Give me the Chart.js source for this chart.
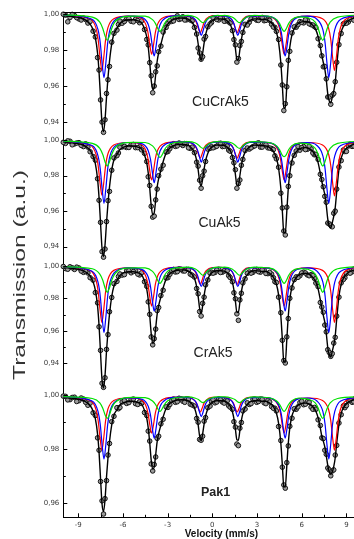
<!DOCTYPE html>
<html><head><meta charset="utf-8">
<script src="https://cdn.jsdelivr.net/npm/chart.js@4.4.1/dist/chart.umd.min.js"></script>
<style>
html,body{margin:0;padding:0;background:#fff;width:354px;height:539px;overflow:hidden;}
#wrap{position:relative;width:354px;height:539px;overflow:hidden;background:#fff;}
canvas{position:absolute;left:0;top:0;width:372px;height:539px;}
</style></head><body><div id="wrap">
<canvas id="c1" width="372" height="539"></canvas>
<canvas id="c2" width="372" height="539"></canvas>
<canvas id="c3" width="372" height="539"></canvas>
<canvas id="c4" width="372" height="539"></canvas>
</div>
<script>
// ---------- DATA ----------
const samples = ['CuCrAk5', 'CuAk5', 'CrAk5', 'Pak1'];
const yTitle = 'Transmission (a.u.)';
const xTitle = 'Velocity (mm/s)';
const xTickValues = [-9, -7.5, -6, -4.5, -3, -1.5, 0, 1.5, 3, 4.5, 6, 7.5, 9];
const yTickValuesWide = [0.94, 0.95, 0.96, 0.97, 0.98, 0.99, 1.00];
const yTickValuesPak1 = [0.96, 0.97, 0.98, 0.99, 1.00];

const velocity = [-10.0, -9.7, -9.4, -9.1, -8.8, -8.5, -8.2, -8.0, -7.85, -7.7,
 -7.6, -7.5, -7.4, -7.3, -7.2, -7.1, -7.0, -6.9, -6.75, -6.6,
 -6.4, -6.2, -5.9, -5.6, -5.3, -5.0, -4.75, -4.55, -4.4, -4.3,
 -4.2, -4.1, -4.0, -3.9, -3.8, -3.7, -3.6, -3.45, -3.3, -3.1,
 -2.85, -2.6, -2.35, -2.1, -1.85, -1.6, -1.35, -1.2, -1.05, -0.95,
 -0.85, -0.75, -0.65, -0.55, -0.45, -0.3, -0.15, 0.05, 0.3, 0.55,
 0.8, 1.0, 1.2, 1.35, 1.45, 1.55, 1.65, 1.75, 1.85, 1.95,
 2.05, 2.2, 2.35, 2.6, 2.85, 3.1, 3.35, 3.6, 3.85, 4.1,
 4.3, 4.45, 4.6, 4.7, 4.8, 4.9, 5.0, 5.1, 5.2, 5.35,
 5.5, 5.75, 6.0, 6.25, 6.5, 6.75, 6.95, 7.1, 7.25, 7.35,
 7.45, 7.55, 7.65, 7.75, 7.85, 7.95, 8.05, 8.15, 8.25, 8.35,
 8.5, 8.65, 8.8, 9.0, 9.25, 9.5, 9.75, 10.0];
// extra measured channels in the flat (off-resonance) regions
const velocityOff = [-9.85, -9.55, -9.25, -8.95, -8.65, -8.35,
 -6.3, -6.05, -5.75, -5.45, -5.15, -4.88,
 -2.98, -2.73, -2.48, -2.23, -1.98, -1.73, -1.48,
 -0.05, 0.18, 0.43, 0.68, 0.9, 1.1,
 2.48, 2.73, 2.98, 3.23, 3.48, 3.73, 3.98, 4.2,
 5.63, 5.88, 6.13, 6.38, 6.63, 6.85,
 8.9, 9.13, 9.38, 9.63, 9.88];

const dataCuCrAk5 = [.9997, .9955, .9996, .9978, .9965, .9968, .9957, .9903, .9871, .9756,
 .9687, .9521, .9398, .9341, .9411, .9557, .9633, .9707, .9842, .9891,
 .9909, .9959, .9957, .9973, .9955, .9962, .9960, .9912, .9857, .9827,
 .9728, .9655, .9561, .9598, .9677, .9710, .9789, .9820, .9898, .9924,
 .9961, .9960, .9988, .9972, .9965, .9974, .9960, .9924, .9887, .9809,
 .9782, .9747, .9761, .9859, .9873, .9927, .9943, .9977, .9968, .9977,
 .9958, .9964, .9948, .9906, .9856, .9827, .9731, .9751, .9823, .9846,
 .9896, .9941, .9937, .9971, .9973, .9963, .9979, .9963, .9963, .9926,
 .9902, .9857, .9715, .9604, .9462, .9500, .9594, .9741, .9791, .9893,
 .9927, .9939, .9952, .9966, .9944, .9937, .9923, .9861, .9823, .9766,
 .9705, .9707, .9638, .9537, .9537, .9497, .9547, .9556, .9622, .9730,
 .9828, .9890, .9944, .9947, .9969, .9964, .9989, .9982];
const offCuCrAk5 = [.9992, .9979, .9990, .9971, .9976, .9948, .9940, .9947, .9971, .9958, .9969, .9950,
 .9946, .9957, .9978, .9968, .9983, .9966, .9965, .9951, .9974, .9965, .9977, .9960, .9955,
 .9952, .9975, .9964, .9977, .9961, .9969, .9941, .9924, .9925, .9956, .9949, .9962, .9939, .9929,
 .9947, .9954, .9977, .9972, .9989];
const fitCuCrAk5 = [.9989, .9987, .9984, .9981, .9975, .9964, .9942, .9910, .9867, .9780,
 .9675, .9530, .9390, .9345, .9410, .9535, .9645, .9735, .9832, .9889,
 .9918, .9946, .9961, .9966, .9966, .9960, .9950, .9915, .9871, .9815,
 .9730, .9631, .9579, .9590, .9661, .9736, .9783, .9830, .9878, .9926,
 .9955, .9968, .9974, .9976, .9975, .9969, .9951, .9930, .9885, .9833,
 .9768, .9741, .9779, .9837, .9883, .9925, .9950, .9964, .9971, .9971,
 .9969, .9960, .9940, .9908, .9868, .9807, .9747, .9745, .9799, .9856,
 .9897, .9932, .9950, .9966, .9971, .9970, .9968, .9967, .9957, .9936,
 .9899, .9841, .9727, .9602, .9480, .9476, .9598, .9727, .9813, .9885,
 .9917, .9944, .9955, .9957, .9952, .9935, .9910, .9873, .9813, .9768,
 .9729, .9693, .9632, .9555, .9515, .9505, .9535, .9570, .9620, .9710,
 .9834, .9898, .9930, .9952, .9967, .9975, .9981, .9984];

const dataCuAk5 = [.9987, .9995, .9973, .9983, .9970, .9978, .9934, .9907, .9887, .9782,
 .9661, .9537, .9372, .9341, .9387, .9541, .9659, .9711, .9830, .9899,
 .9912, .9959, .9963, .9958, .9975, .9957, .9945, .9925, .9879, .9793,
 .9744, .9627, .9566, .9572, .9663, .9724, .9799, .9836, .9858, .9932,
 .9951, .9979, .9967, .9978, .9980, .9956, .9960, .9929, .9875, .9853,
 .9774, .9729, .9799, .9825, .9879, .9949, .9953, .9956, .9965, .9982,
 .9964, .9966, .9937, .9901, .9872, .9833, .9729, .9755, .9775, .9858,
 .9891, .9941, .9955, .9956, .9967, .9984, .9960, .9973, .9955, .9946,
 .9894, .9847, .9701, .9618, .9488, .9466, .9622, .9739, .9799, .9871,
 .9914, .9964, .9957, .9946, .9966, .9927, .9919, .9891, .9807, .9778,
 .9737, .9683, .9650, .9533, .9528, .9521, .9512, .9588, .9600, .9724,
 .9848, .9884, .9944, .9936, .9976, .9966, .9975, .9978];
const offCuAk5 = [.9981, .9993, .9978, .9985, .9963, .9960, .9927, .9961, .9958, .9973, .9957, .9962,
 .9935, .9970, .9964, .9983, .9969, .9979, .9953, .9962, .9961, .9980, .9963, .9972, .9943,
 .9949, .9963, .9980, .9960, .9974, .9956, .9952, .9911, .9938, .9943, .9963, .9948, .9951, .9917,
 .9935, .9966, .9964, .9984, .9976];
const fitCuAk5 = [.9989, .9987, .9984, .9981, .9975, .9964, .9942, .9910, .9867, .9780,
 .9675, .9530, .9390, .9345, .9410, .9535, .9645, .9735, .9832, .9889,
 .9918, .9946, .9961, .9966, .9966, .9960, .9950, .9915, .9871, .9815,
 .9730, .9631, .9579, .9590, .9661, .9736, .9783, .9830, .9878, .9926,
 .9955, .9968, .9974, .9976, .9975, .9969, .9951, .9930, .9885, .9833,
 .9768, .9741, .9779, .9837, .9883, .9925, .9950, .9964, .9971, .9971,
 .9969, .9960, .9940, .9908, .9868, .9807, .9747, .9745, .9799, .9856,
 .9897, .9932, .9950, .9966, .9971, .9970, .9968, .9967, .9957, .9936,
 .9899, .9841, .9727, .9602, .9480, .9476, .9598, .9727, .9813, .9885,
 .9917, .9944, .9955, .9957, .9952, .9935, .9910, .9873, .9813, .9768,
 .9729, .9693, .9632, .9555, .9515, .9505, .9535, .9570, .9620, .9710,
 .9834, .9898, .9930, .9952, .9967, .9975, .9981, .9984];

const dataCrAk5 = [.9997, .9980, .9989, .9993, .9969, .9966, .9928, .9913, .9836, .9773,
 .9625, .9480, .9277, .9252, .9311, .9486, .9577, .9718, .9806, .9891,
 .9905, .9951, .9947, .9971, .9966, .9950, .9958, .9903, .9875, .9779,
 .9702, .9563, .9514, .9552, .9611, .9725, .9744, .9818, .9851, .9926,
 .9949, .9979, .9965, .9980, .9969, .9978, .9943, .9932, .9861, .9829,
 .9719, .9692, .9770, .9808, .9884, .9914, .9956, .9956, .9976, .9960,
 .9971, .9970, .9929, .9903, .9835, .9798, .9705, .9665, .9791, .9832,
 .9896, .9921, .9955, .9956, .9974, .9965, .9977, .9954, .9961, .9928,
 .9898, .9808, .9712, .9542, .9417, .9402, .9563, .9676, .9801, .9865,
 .9916, .9930, .9957, .9957, .9940, .9941, .9895, .9873, .9775, .9747,
 .9715, .9636, .9594, .9484, .9467, .9443, .9460, .9525, .9560, .9691,
 .9808, .9896, .9917, .9954, .9956, .9981, .9978, .9993];
const offCrAk5 = [.9984, .9995, .9979, .9988, .9961, .9957, .9935, .9944, .9970, .9958, .9970, .9945,
 .9928, .9967, .9963, .9982, .9970, .9979, .9950, .9962, .9960, .9979, .9962, .9971, .9940,
 .9963, .9961, .9979, .9962, .9974, .9953, .9950, .9903, .9933, .9940, .9962, .9945, .9947, .9924,
 .9928, .9965, .9964, .9986, .9978];
const fitCrAk5 = [.9991, .9989, .9985, .9982, .9975, .9963, .9938, .9901, .9852, .9753,
 .9633, .9462, .9297, .9248, .9325, .9474, .9599, .9702, .9812, .9877,
 .9910, .9942, .9959, .9965, .9965, .9958, .9947, .9907, .9857, .9793,
 .9696, .9583, .9524, .9536, .9617, .9703, .9756, .9810, .9865, .9919,
 .9952, .9967, .9974, .9976, .9975, .9968, .9948, .9924, .9873, .9813,
 .9739, .9708, .9752, .9818, .9870, .9918, .9947, .9963, .9971, .9971,
 .9968, .9958, .9935, .9899, .9853, .9784, .9715, .9713, .9775, .9840,
 .9886, .9926, .9947, .9965, .9971, .9969, .9967, .9966, .9955, .9931,
 .9889, .9822, .9692, .9550, .9411, .9406, .9545, .9692, .9791, .9873,
 .9909, .9940, .9952, .9955, .9949, .9930, .9901, .9859, .9791, .9739,
 .9695, .9654, .9584, .9496, .9451, .9439, .9474, .9513, .9570, .9673,
 .9814, .9887, .9924, .9949, .9966, .9975, .9982, .9985];

const dataPak1 = [.9997, .9983, .9992, .9977, .9990, .9974, .9971, .9935, .9925, .9842,
 .9796, .9680, .9608, .9559, .9616, .9683, .9778, .9821, .9902, .9922,
 .9954, .9955, .9980, .9973, .9986, .9966, .9970, .9936, .9925, .9867,
 .9830, .9745, .9719, .9743, .9771, .9840, .9848, .9894, .9911, .9957,
 .9966, .9986, .9976, .9987, .9974, .9986, .9964, .9960, .9914, .9900,
 .9836, .9833, .9848, .9904, .9917, .9954, .9960, .9984, .9975, .9983,
 .9971, .9979, .9956, .9948, .9902, .9882, .9819, .9813, .9878, .9899,
 .9942, .9949, .9972, .9969, .9986, .9977, .9985, .9969, .9975, .9952,
 .9942, .9884, .9832, .9733, .9667, .9655, .9750, .9812, .9885, .9915,
 .9950, .9957, .9978, .9967, .9974, .9948, .9948, .9909, .9888, .9842,
 .9839, .9796, .9781, .9730, .9723, .9701, .9719, .9723, .9778, .9814,
 .9897, .9928, .9961, .9962, .9982, .9976, .9992, .9986];
const offPak1 = [.9996, .9984, .9993, .9980, .9986, .9963, .9950, .9975, .9970, .9984, .9969, .9976,
 .9955, .9981, .9974, .9989, .9978, .9987, .9967, .9977, .9972, .9986, .9975, .9982, .9961,
 .9966, .9985, .9974, .9986, .9972, .9981, .9958, .9952, .9948, .9973, .9965, .9977, .9956, .9955,
 .9954, .9979, .9974, .9991, .9982];
const fitPak1 = [.9992, .9991, .9989, .9987, .9983, .9976, .9962, .9941, .9913, .9856,
 .9788, .9690, .9596, .9568, .9612, .9697, .9768, .9827, .9890, .9927,
 .9946, .9964, .9974, .9977, .9977, .9973, .9967, .9944, .9915, .9879,
 .9824, .9759, .9726, .9733, .9779, .9828, .9858, .9889, .9920, .9951,
 .9970, .9978, .9982, .9984, .9983, .9979, .9967, .9954, .9924, .9891,
 .9848, .9831, .9856, .9893, .9923, .9950, .9967, .9976, .9980, .9980,
 .9979, .9973, .9960, .9939, .9913, .9874, .9835, .9833, .9869, .9906,
 .9932, .9955, .9967, .9977, .9980, .9980, .9978, .9978, .9971, .9958,
 .9934, .9896, .9822, .9741, .9661, .9659, .9738, .9822, .9878, .9924,
 .9945, .9963, .9970, .9971, .9968, .9957, .9941, .9917, .9878, .9848,
 .9830, .9808, .9775, .9740, .9715, .9707, .9715, .9735, .9768, .9822,
 .9891, .9933, .9954, .9968, .9978, .9983, .9987, .9989];

// subspectra (sextets) velocities
const redVelocity = [-10, -8.21, -7.81, -7.66, -7.53, -7.41, -7.29, -7.16, -7.01, -6.61,
 -5.7, -4.87, -4.47, -4.32, -4.19, -4.07, -3.95, -3.82, -3.67, -3.27,
 -2.4, -1.61, -1.21, -1.06, -0.93, -0.81, -0.69, -0.56, -0.41, -0.01,
 0.43, 0.87, 1.27, 1.42, 1.55, 1.67, 1.79, 1.92, 2.07, 2.47,
 3.3, 4.02, 4.42, 4.57, 4.70, 4.82, 4.94, 5.07, 5.22, 5.62,
 6.5, 7.4, 7.8, 7.95, 8.08, 8.2, 8.32, 8.45, 8.6, 9.0, 10];
const blueVelocity = [-10, -8.07, -7.67, -7.52, -7.39, -7.27, -7.15, -7.02, -6.87, -6.47,
 -5.6, -4.7, -4.3, -4.15, -4.02, -3.9, -3.78, -3.65, -3.5, -3.1,
 -2.3, -1.54, -1.14, -0.99, -0.86, -0.74, -0.62, -0.49, -0.34, 0.06,
 0.5, 0.91, 1.31, 1.46, 1.59, 1.71, 1.83, 1.96, 2.11, 2.51,
 3.3, 4.09, 4.49, 4.64, 4.77, 4.89, 5.01, 5.14, 5.29, 5.69,
 6.4, 7.02, 7.42, 7.57, 7.70, 7.82, 7.94, 8.07, 8.22, 8.62, 10];
const greenVelocity = [-10, -8.05, -7.55, -7.35, -7.2, -7.05, -6.9, -6.75, -6.55, -6.05,
 -5.3, -4.51, -4.01, -3.81, -3.66, -3.51, -3.36, -3.21, -3.01, -2.51,
 -2.1, -1.63, -1.13, -0.93, -0.78, -0.63, -0.48, -0.33, -0.13, 0.37,
 0.6, 0.82, 1.32, 1.52, 1.67, 1.82, 1.97, 2.12, 2.32, 2.82,
 3.3, 3.82, 4.32, 4.52, 4.67, 4.82, 4.97, 5.12, 5.32, 5.82,
 6.1, 6.41, 6.91, 7.11, 7.26, 7.41, 7.56, 7.71, 7.91, 8.41, 10];

const redCuCrAk5 = [.9993, .9972, .9921, .9856, .9754, .9685, .9754, .9856, .9921, .9972,
 .9986, .9979, .9942, .9896, .9824, .9775, .9824, .9896, .9942, .9979,
 .9989, .9988, .9971, .9950, .9917, .9895, .9917, .9950, .9971, .9988,
 .9989, .9988, .9971, .9950, .9917, .9895, .9917, .9950, .9971, .9988,
 .9988, .9979, .9942, .9896, .9824, .9775, .9824, .9896, .9942, .9979,
 .9986, .9972, .9921, .9856, .9754, .9685, .9754, .9856, .9921, .9972, .9990];
const blueCuCrAk5 = [.9993, .9969, .9911, .9838, .9722, .9645, .9722, .9838, .9911, .9969,
 .9986, .9978, .9940, .9892, .9816, .9765, .9816, .9892, .9940, .9978,
 .9989, .9987, .9967, .9943, .9905, .9880, .9905, .9943, .9967, .9987,
 .9989, .9987, .9967, .9943, .9905, .9880, .9905, .9943, .9967, .9987,
 .9988, .9978, .9940, .9892, .9816, .9765, .9816, .9892, .9940, .9978,
 .9986, .9969, .9911, .9838, .9722, .9645, .9722, .9838, .9911, .9969, .9991];
const greenCuCrAk5 = [.9993, .9981, .9953, .9918, .9877, .9852, .9877, .9918, .9953, .9981,
 .9987, .9986, .9967, .9945, .9918, .9902, .9918, .9945, .9967, .9986,
 .9988, .9991, .9982, .9971, .9958, .9950, .9958, .9971, .9982, .9991,
 .9989, .9991, .9982, .9971, .9958, .9950, .9958, .9971, .9982, .9991,
 .9989, .9986, .9967, .9945, .9918, .9902, .9918, .9945, .9967, .9982,
 .9981, .9978, .9953, .9918, .9877, .9852, .9877, .9918, .9953, .9981, .9993];

const redCuAk5 = [.9993, .9972, .9921, .9856, .9756, .9690, .9756, .9856, .9921, .9972,
 .9986, .9979, .9942, .9896, .9824, .9775, .9824, .9896, .9942, .9979,
 .9989, .9988, .9972, .9952, .9920, .9898, .9920, .9952, .9972, .9988,
 .9989, .9988, .9972, .9952, .9920, .9898, .9920, .9952, .9972, .9988,
 .9988, .9979, .9942, .9896, .9824, .9775, .9824, .9896, .9942, .9979,
 .9986, .9972, .9921, .9856, .9756, .9685, .9756, .9856, .9921, .9972, .9990];
const blueCuAk5 = [.9993, .9969, .9911, .9838, .9722, .9644, .9722, .9838, .9911, .9969,
 .9986, .9978, .9940, .9892, .9816, .9760, .9816, .9892, .9940, .9978,
 .9989, .9987, .9967, .9943, .9905, .9875, .9905, .9943, .9967, .9987,
 .9989, .9987, .9967, .9943, .9905, .9875, .9905, .9943, .9967, .9987,
 .9988, .9978, .9940, .9892, .9816, .9760, .9816, .9892, .9940, .9978,
 .9986, .9969, .9911, .9838, .9722, .9644, .9722, .9838, .9911, .9969, .9991];
const greenCuAk5 = [.9993, .9981, .9953, .9918, .9878, .9854, .9878, .9918, .9953, .9981,
 .9987, .9986, .9967, .9945, .9918, .9902, .9918, .9945, .9967, .9986,
 .9988, .9991, .9983, .9972, .9960, .9953, .9960, .9972, .9983, .9991,
 .9989, .9991, .9983, .9972, .9960, .9953, .9960, .9972, .9983, .9991,
 .9989, .9986, .9967, .9945, .9918, .9906, .9918, .9945, .9967, .9982,
 .9981, .9978, .9953, .9918, .9878, .9854, .9878, .9918, .9953, .9981, .9993];

const redCrAk5 = [.9996, .9973, .9915, .9843, .9728, .9652, .9728, .9843, .9915, .9973,
 .9988, .9980, .9939, .9888, .9807, .9753, .9807, .9888, .9939, .9980,
 .9992, .9990, .9971, .9948, .9911, .9886, .9911, .9948, .9971, .9990,
 .9991, .9990, .9971, .9948, .9911, .9886, .9911, .9948, .9971, .9990,
 .9990, .9980, .9939, .9888, .9807, .9753, .9807, .9888, .9939, .9980,
 .9988, .9973, .9915, .9843, .9728, .9652, .9728, .9843, .9915, .9973, .9992];
const blueCrAk5 = [.9996, .9968, .9900, .9815, .9680, .9590, .9680, .9815, .9900, .9968,
 .9988, .9978, .9932, .9875, .9784, .9723, .9784, .9875, .9932, .9978,
 .9991, .9989, .9968, .9942, .9901, .9874, .9901, .9942, .9968, .9989,
 .9991, .9989, .9968, .9942, .9901, .9874, .9901, .9942, .9968, .9989,
 .9990, .9978, .9932, .9875, .9784, .9723, .9784, .9875, .9932, .9978,
 .9988, .9968, .9900, .9815, .9680, .9590, .9680, .9815, .9900, .9968, .9993];
const greenCrAk5 = [.9996, .9983, .9950, .9912, .9866, .9838, .9866, .9912, .9950, .9983,
 .9989, .9988, .9967, .9941, .9911, .9893, .9911, .9941, .9967, .9988,
 .9990, .9993, .9982, .9968, .9953, .9943, .9953, .9968, .9982, .9993,
 .9991, .9993, .9982, .9968, .9953, .9943, .9953, .9968, .9982, .9993,
 .9991, .9988, .9967, .9941, .9911, .9893, .9911, .9941, .9967, .9984,
 .9983, .9980, .9950, .9912, .9866, .9838, .9866, .9912, .9950, .9983, .9996];

const redPak1 = [.9995, .9981, .9948, .9906, .9840, .9796, .9840, .9906, .9948, .9981,
 .9990, .9986, .9963, .9935, .9889, .9859, .9889, .9935, .9963, .9986,
 .9993, .9992, .9982, .9970, .9951, .9938, .9951, .9970, .9982, .9992,
 .9992, .9992, .9982, .9970, .9951, .9938, .9951, .9970, .9982, .9992,
 .9992, .9986, .9963, .9935, .9889, .9859, .9889, .9935, .9963, .9986,
 .9990, .9981, .9948, .9906, .9840, .9796, .9840, .9906, .9948, .9981, .9993];
const bluePak1 = [.9995, .9979, .9940, .9892, .9814, .9763, .9814, .9892, .9940, .9979,
 .9990, .9985, .9959, .9927, .9875, .9841, .9875, .9927, .9959, .9985,
 .9993, .9991, .9978, .9962, .9938, .9921, .9938, .9962, .9978, .9991,
 .9992, .9991, .9978, .9962, .9938, .9921, .9938, .9962, .9978, .9991,
 .9992, .9985, .9959, .9927, .9875, .9841, .9875, .9927, .9959, .9985,
 .9990, .9979, .9940, .9892, .9814, .9763, .9814, .9892, .9940, .9979, .9993];
const greenPak1 = [.9995, .9988, .9972, .9952, .9928, .9914, .9928, .9952, .9972, .9988,
 .9992, .9991, .9979, .9966, .9950, .9940, .9950, .9966, .9979, .9991,
 .9993, .9994, .9989, .9984, .9977, .9973, .9977, .9984, .9989, .9994,
 .9994, .9994, .9989, .9984, .9977, .9973, .9977, .9984, .9989, .9994,
 .9993, .9991, .9979, .9966, .9950, .9940, .9950, .9966, .9979, .9990,
 .9988, .9986, .9972, .9952, .9928, .9914, .9928, .9952, .9972, .9988, .9995];

// ---------- LAYOUT / STYLE ----------
const FONT = '"Liberation Sans", Arial, Helvetica, sans-serif';
const CANVAS_H = 539;
const panels = [
  {id:'c1', top:12, bottom:131, min:0.934833, max:1.000944, yticks:yTickValuesWide,
   data:dataCuCrAk5, off:offCuCrAk5, fit:fitCuCrAk5, red:redCuCrAk5, blue:blueCuCrAk5, green:greenCuCrAk5,
   label:{text:samples[0], x:220.5, y:106, font:'14px '+FONT}, topLine:true},
  {id:'c2', top:131, bottom:265, min:0.929696, max:1.005062, yticks:yTickValuesWide,
   data:dataCuAk5, off:offCuAk5, fit:fitCuAk5, red:redCuAk5, blue:blueCuAk5, green:greenCuAk5,
   label:{text:samples[1], x:219.5, y:227.3, font:'14px '+FONT}},
  {id:'c3', top:265, bottom:393, min:0.921702, max:1.000617, yticks:yTickValuesWide,
   data:dataCrAk5, off:offCrAk5, fit:fitCrAk5, red:redCrAk5, blue:blueCrAk5, green:greenCrAk5,
   label:{text:samples[2], x:213, y:356.7, font:'14px '+FONT}},
  {id:'c4', top:393, bottom:517.3, min:0.954681, max:1.000854, yticks:yTickValuesPak1,
   data:dataPak1, off:offPak1, fit:fitPak1, red:redPak1, blue:bluePak1, green:greenPak1,
   label:{text:samples[3], x:215.5, y:496, font:'bold 12.5px '+FONT}, showX:true}
];

const pts = (xs, ys) => xs.map((x, i) => ({x, y: ys[i]}));
const fmtY = v => v.toFixed(2).replace('.', ',');

const deco = {
  id: 'deco',
  afterDraw(chart, args, o) {
    const {ctx, chartArea: a, scales: {x, y}} = chart;
    ctx.save();
    ctx.strokeStyle = '#000';
    ctx.lineWidth = 1;
    ctx.beginPath();
    y.ticks.forEach(t => {
      const py = Math.round(y.getPixelForValue(t.value)) + 0.5;
      const len = t.label ? 4 : 2.5;
      ctx.moveTo(a.left, py); ctx.lineTo(a.left + len, py);
    });
    if (o.showX) {
      x.ticks.forEach(t => {
        const px = Math.round(x.getPixelForValue(t.value)) + 0.5;
        const len = t.label ? 4 : 2.5;
        ctx.moveTo(px, a.bottom); ctx.lineTo(px, a.bottom - len);
      });
    }
    if (o.topLine) {
      const ty = Math.round(a.top) + 0.5;
      ctx.moveTo(a.left, ty); ctx.lineTo(a.right, ty);
    }
    ctx.stroke();
    ctx.fillStyle = '#222';
    ctx.font = o.label.font;
    ctx.textAlign = 'center';
    ctx.textBaseline = 'alphabetic';
    ctx.fillText(o.label.text, o.label.x, o.label.y);
    if (o.showX) {
      ctx.fillStyle = '#111';
      ctx.font = 'bold 10px ' + FONT;
      ctx.fillText(xTitle, 221.4, 536.5);
      ctx.save();
      ctx.translate(25, 275);
      ctx.rotate(-Math.PI / 2);
      ctx.font = '17px ' + FONT;
      const w = ctx.measureText(yTitle).width;
      ctx.scale(210 / w, 1);
      ctx.fillStyle = '#333';
      ctx.textAlign = 'center';
      ctx.fillText(yTitle, 0, 0);
      ctx.restore();
    }
    ctx.restore();
  }
};

panels.forEach(p => {
  const lineDs = (xs, ys, color, order, width) => ({
    data: pts(xs, ys), borderColor: color, borderWidth: width, pointRadius: 0,
    cubicInterpolationMode: 'monotone', fill: false, clip: false, order
  });
  const pointDs = (xs, ys, order) => ({
    data: pts(xs, ys), showLine: false, pointRadius: 2.3, pointBorderWidth: 1,
    pointBackgroundColor: '#9a9a9a', pointBorderColor: '#151515', clip: false, order
  });
  const xScale = {
    type: 'linear', min: -10, max: 10, display: !!p.showX,
    grid: { display: false, drawTicks: false },
    border: { display: true, color: '#000', width: 1 },
    afterBuildTicks: s => { s.ticks = xTickValues.map(v => ({value: v})); },
    ticks: { autoSkip: false, maxRotation: 0, padding: 4, color: '#3a3a3a',
      font: { family: '"DejaVu Sans", sans-serif', size: 7 },
      callback: v => (Number.isInteger(v) && v % 3 === 0) ? String(v) : '' }
  };
  if (p.showX) xScale.afterFit = s => { s.height = CANVAS_H - p.bottom; };
  new Chart(document.getElementById(p.id), {
    type: 'line',
    data: { datasets: [
      lineDs(greenVelocity, p.green, '#00e000', 1, 1.2),
      lineDs(blueVelocity, p.blue, '#0000ff', 2, 1.2),
      lineDs(redVelocity, p.red, '#ff0000', 3, 1.2),
      lineDs(velocity, p.fit, '#000000', 4, 1.4),
      pointDs(velocity, p.data, 5),
      pointDs(velocityOff, p.off, 6)
    ]},
    options: {
      responsive: false, animation: false, devicePixelRatio: 1,
      events: [],
      layout: { padding: { top: p.top, bottom: p.showX ? 0 : CANVAS_H - p.bottom, left: 0, right: 10.7 } },
      plugins: { legend: { display: false }, tooltip: { enabled: false },
        deco: { label: p.label, topLine: !!p.topLine, showX: !!p.showX } },
      scales: {
        x: xScale,
        y: {
          type: 'linear', min: p.min, max: p.max,
          grid: { display: false, drawTicks: false },
          border: { display: true, color: '#000', width: 1 },
          afterBuildTicks: s => { s.ticks = p.yticks.map(v => ({value: v})); },
          afterFit: s => { s.width = 63.3; },
          ticks: { autoSkip: false, padding: 4, color: '#3a3a3a',
            font: { family: '"DejaVu Sans", sans-serif', size: 7 },
            callback: v => (Math.round(v * 100) % 2 === 0) ? fmtY(v) : '' }
        }
      }
    },
    plugins: [deco]
  });
});
</script>
</body></html>
